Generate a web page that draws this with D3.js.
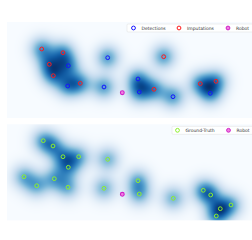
<!DOCTYPE html>
<html>
<head>
<meta charset="utf-8">
<script src="https://cdn.jsdelivr.net/npm/d3@7"></script>
<style>
  body { margin: 0; background: #fff; }
  svg { display: block; }
</style>
</head>
<body>
<div id="chart"></div>
<script>
// positions in metres, map frame
const detections = [
    [6.13, 4.37], [6.07, 6.4], [10.07, 3.57], [9.7, 6.5],
    [13.1, 5.7], [13.23, 7.0], [16.6, 7.47], [20.33, 7.13]
];
const imputations = [
    [3.47, 2.7], [5.6, 3.07], [4.23, 4.23], [4.63, 5.37], [7.33, 6.13],
    [15.67, 3.47], [19.33, 6.17], [20.9, 5.93], [14.7, 6.73]
];
const groundTruth = [
    [3.63, 1.64], [4.6, 2.17], [5.6, 3.24], [7.17, 3.24], [6.13, 4.3],
    [1.7, 5.24], [4.73, 5.44], [2.97, 6.14], [6.1, 6.3], [10.07, 3.5],
    [9.7, 6.4], [13.1, 5.64], [13.23, 6.97], [16.63, 7.4], [19.63, 6.6],
    [20.37, 7.07], [21.33, 8.44], [22.4, 8.07], [20.93, 9.17]
];
const robotTop = [11.53, 7.07];
const robotBottom = [11.53, 7.0];

const legendTop = ["Detections", "Imputations", "Robot"];
const legendBottom = ["Ground-Truth", "Robot"];

const W = 252, H = 240;
const panelW = 245, panelH = 96;
const panels = [
    {top: 22, points: detections.concat(imputations), robot: robotTop,
     series: [{pts: detections, color: "#1515ff"}, {pts: imputations, color: "#ff1a1a"}],
     legend: legendTop, legendColors: ["#1515ff", "#ff1a1a", "#d020c8"], legendX: 127},
    {top: 124.3, points: groundTruth, robot: robotBottom,
     series: [{pts: groundTruth, color: "#8cf02a"}],
     legend: legendBottom, legendColors: ["#8cf02a", "#d020c8"], legendX: 172}
];

const svg = d3.select("#chart").append("svg")
    .attr("width", W).attr("height", H);

const x = d3.scaleLinear().domain([0, 24.5]).range([7, 7 + panelW]);
const sigma = 0.85; // metres

panels.forEach(p => {
    const y = d3.scaleLinear().domain([0, 9.6]).range([p.top, p.top + panelH]);

    // density grid
    const cw = Math.ceil(panelW), ch = Math.ceil(panelH);
    const canvas = document.createElement("canvas");
    canvas.width = cw; canvas.height = ch;
    const ctx = canvas.getContext("2d");
    const img = ctx.createImageData(cw, ch);
    const grid = new Float32Array(cw * ch);
    let maxV = 0;
    for (let j = 0; j < ch; j++) {
        for (let i = 0; i < cw; i++) {
            const mx = x.invert(7 + i + 0.5), my = y.invert(p.top + j + 0.5);
            let s = 0;
            p.points.forEach(d => {
                const dx = mx - d[0], dy = my - d[1];
                s += Math.exp(-(dx * dx + dy * dy) / (2 * sigma * sigma));
            });
            grid[j * cw + i] = s;
            if (s > maxV) maxV = s;
        }
    }
    const color = d3.scaleSequential(d3.interpolateBlues).domain([0, maxV]).clamp(true);
    for (let k = 0; k < grid.length; k++) {
        const c = d3.rgb(color(grid[k]));
        img.data[k * 4] = c.r; img.data[k * 4 + 1] = c.g; img.data[k * 4 + 2] = c.b; img.data[k * 4 + 3] = 255;
    }
    ctx.putImageData(img, 0, 0);
    svg.append("image")
        .attr("x", 7).attr("y", p.top)
        .attr("width", cw).attr("height", ch)
        .attr("preserveAspectRatio", "none")
        .attr("href", canvas.toDataURL());

    // markers
    p.series.forEach(s => {
        svg.append("g").selectAll("circle")
            .data(s.pts).enter().append("circle")
            .attr("cx", d => x(d[0])).attr("cy", d => y(d[1]))
            .attr("r", 1.9).attr("fill", "none")
            .attr("stroke", s.color).attr("stroke-width", 1);
    });
    svg.append("circle")
        .attr("cx", x(p.robot[0])).attr("cy", y(p.robot[1]))
        .attr("r", 1.9).attr("fill", "#f080e0")
        .attr("stroke", "#d020c8").attr("stroke-width", 1.1);

    // legend
    const lg = svg.append("g").attr("transform", `translate(${p.legendX},${p.top + 2})`);
    lg.append("rect").attr("x", 0).attr("y", 0)
        .attr("width", W - p.legendX + 4).attr("height", 8)
        .attr("rx", 1).attr("fill", "#fff").attr("fill-opacity", 0.85)
        .attr("stroke", "#ddd").attr("stroke-width", 0.5);
    const ex = p.legend.length === 3 ? [6.5, 52, 101] : [5.5, 56.5];
    p.legend.forEach((t, i) => {
        const isRobot = t === "Robot";
        lg.append("circle").attr("cx", ex[i]).attr("cy", 4).attr("r", 1.9)
            .attr("fill", isRobot ? "#f080e0" : "none")
            .attr("stroke", p.legendColors[i]).attr("stroke-width", 1);
        lg.append("text").attr("x", ex[i] + 8).attr("y", 5.6)
            .attr("font-family", "DejaVu Sans, sans-serif").attr("font-size", 4.5)
            .attr("fill", "#333").text(t);
    });
});
</script>
</body>
</html>
